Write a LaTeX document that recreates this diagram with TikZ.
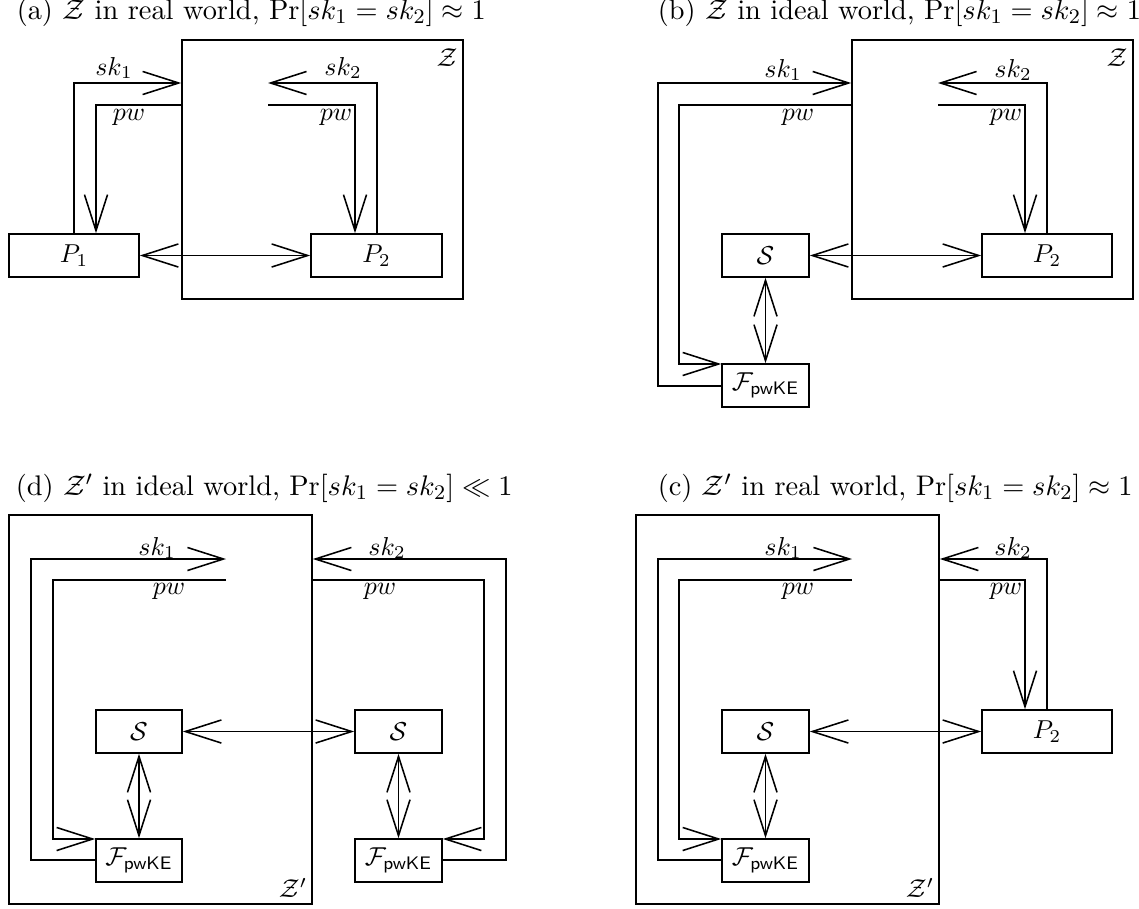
\documentclass[tikz,border=0pt]{standalone}
\usetikzlibrary{arrows.meta}
\newcommand\pbox[6]{\node[boxn,minimum width={(#4-#2)*0.386pt},minimum height={(#5-#3)*0.386pt}] (#1) at ({(#2+#4)/2},{(#3+#5)/2}) {#6};}
\begin{document}
\begin{tikzpicture}[x=0.386pt,y=-0.386pt,line width=0.6pt,
  boxn/.style={draw,rectangle,inner sep=0pt},
  arr/.style={-{Straight Barb[length=13.9pt,width=8.9pt]}},
  darr/.style={{Straight Barb[length=13.9pt,width=8.9pt]}-{Straight Barb[length=13.9pt,width=8.9pt]}},
  lbl/.style={inner sep=0pt},
  ttl/.style={inner sep=0pt,anchor=west,font=\fontsize{10.95pt}{13.6pt}\selectfont}]
\useasboundingbox (0,0) rectangle (1139,908);

% ---------- (a) ----------
\node[ttl] (ta) at (16,12) {(a) $\mathcal{Z}$ in real world, $\Pr[sk_1 = sk_2] \approx 1$};
\pbox{za}{182}{40}{463}{299}{}
\node[lbl] (zal) at (447,58) {$\mathcal{Z}$};
\pbox{pa1}{9}{234}{139}{277}{$P_1$}
\pbox{pa2}{311}{234}{442}{277}{$P_2$}
\draw[arr] (pa1.north -| 74,0) |- (za.west |- 0,83);
\draw[arr] (za.west |- 0,105) -| (pa1.north -| 96,0);
\coordinate (a2sk) at (268,83);
\coordinate (a2pw) at (268,105);
\draw[arr] (pa2.north -| 377,0) |- (a2sk);
\draw[arr] (a2pw) -| (pa2.north -| 355,0);
\draw[darr] (pa1.east) -- (pa2.west);
\node[lbl] (a1s) at (114,68) {$sk_1$};
\node[lbl] (a1p) at (129,117) {$pw$};
\node[lbl] (a2s) at (343,68) {$sk_2$};
\node[lbl] (a2p) at (336,117) {$pw$};

% ---------- (b) ----------
\node[ttl] (tb) at (657,12) {(b) $\mathcal{Z}$ in ideal world, $\Pr[sk_1 = sk_2] \approx 1$};
\pbox{zb}{852}{40}{1133}{299}{}
\node[lbl] (zbl) at (1117,58) {$\mathcal{Z}$};
\pbox{sb}{722}{234}{809}{277}{$\mathcal{S}$}
\pbox{fb}{722}{364}{809}{407}{$\mathcal{F}_{\mathsf{pwKE}}$}
\pbox{pb2}{982}{234}{1112}{277}{$P_2$}
\draw[arr] (fb.west |- 0,386) -| (658,83) -- (zb.west |- 0,83);
\draw[arr] (zb.west |- 0,105) -| (679,364) -- (fb.west |- 0,364);
\draw[darr] (sb.south) -- (fb.north);
\draw[darr] (sb.east) -- (pb2.west);
\coordinate (b2sk) at (938,83);
\coordinate (b2pw) at (938,105);
\draw[arr] (pb2.north -| 1047,0) |- (b2sk);
\draw[arr] (b2pw) -| (pb2.north -| 1025,0);
\node[lbl] (b1s) at (783,70) {$sk_1$};
\node[lbl] (b1p) at (798,117) {$pw$};
\node[lbl] (b2s) at (1013,70) {$sk_2$};
\node[lbl] (b2p) at (1006,117) {$pw$};

% ---------- (d) ----------
\node[ttl] (td) at (15,488) {(d) $\mathcal{Z}'$ in ideal world, $\Pr[sk_1 = sk_2] \ll 1$};
\pbox{zd}{9}{515}{312}{904}{}
\node[lbl] (zdl) at (293,888) {$\mathcal{Z}'$};
\pbox{sd1}{96}{710}{182}{753}{$\mathcal{S}$}
\pbox{fd1}{96}{839}{182}{882}{$\mathcal{F}_{\mathsf{pwKE}}$}
\pbox{sd2}{355}{710}{442}{753}{$\mathcal{S}$}
\pbox{fd2}{355}{839}{442}{882}{$\mathcal{F}_{\mathsf{pwKE}}$}
\coordinate (d1sk) at (226,559);
\coordinate (d1pw) at (226,580);
\draw[arr] (fd1.west |- 0,860) -| (31,559) -- (d1sk);
\draw[arr] (d1pw) -| (53,839) -- (fd1.west |- 0,839);
\draw[arr] (fd2.east |- 0,860) -| (506,559) -- (zd.east |- 0,559);
\draw[arr] (zd.east |- 0,580) -| (484,839) -- (fd2.east |- 0,839);
\draw[darr] (sd1.south) -- (fd1.north);
\draw[darr] (sd2.south) -- (fd2.north);
\draw[darr] (sd1.east) -- (sd2.west);
\node[lbl] (d1s) at (157,548) {$sk_1$};
\node[lbl] (d1p) at (169,591) {$pw$};
\node[lbl] (d2s) at (387,548) {$sk_2$};
\node[lbl] (d2p) at (380,591) {$pw$};

% ---------- (c) ----------
\node[ttl] (tc) at (657,488) {(c) $\mathcal{Z}'$ in real world, $\Pr[sk_1 = sk_2] \approx 1$};
\pbox{zc}{636}{515}{939}{904}{}
\node[lbl] (zcl) at (920,888) {$\mathcal{Z}'$};
\pbox{sc}{722}{710}{809}{753}{$\mathcal{S}$}
\pbox{fc}{722}{839}{809}{882}{$\mathcal{F}_{\mathsf{pwKE}}$}
\pbox{pc2}{982}{710}{1112}{753}{$P_2$}
\coordinate (c1sk) at (852,559);
\coordinate (c1pw) at (852,580);
\draw[arr] (fc.west |- 0,860) -| (658,559) -- (c1sk);
\draw[arr] (c1pw) -| (679,839) -- (fc.west |- 0,839);
\draw[darr] (sc.south) -- (fc.north);
\draw[darr] (sc.east) -- (pc2.west);
\draw[arr] (pc2.north -| 1047,0) |- (zc.east |- 0,559);
\draw[arr] (zc.east |- 0,580) -| (pc2.north -| 1025,0);
\node[lbl] (c1s) at (783,548) {$sk_1$};
\node[lbl] (c1p) at (798,591) {$pw$};
\node[lbl] (c2s) at (1013,548) {$sk_2$};
\node[lbl] (c2p) at (1006,591) {$pw$};
\end{tikzpicture}
\end{document}
